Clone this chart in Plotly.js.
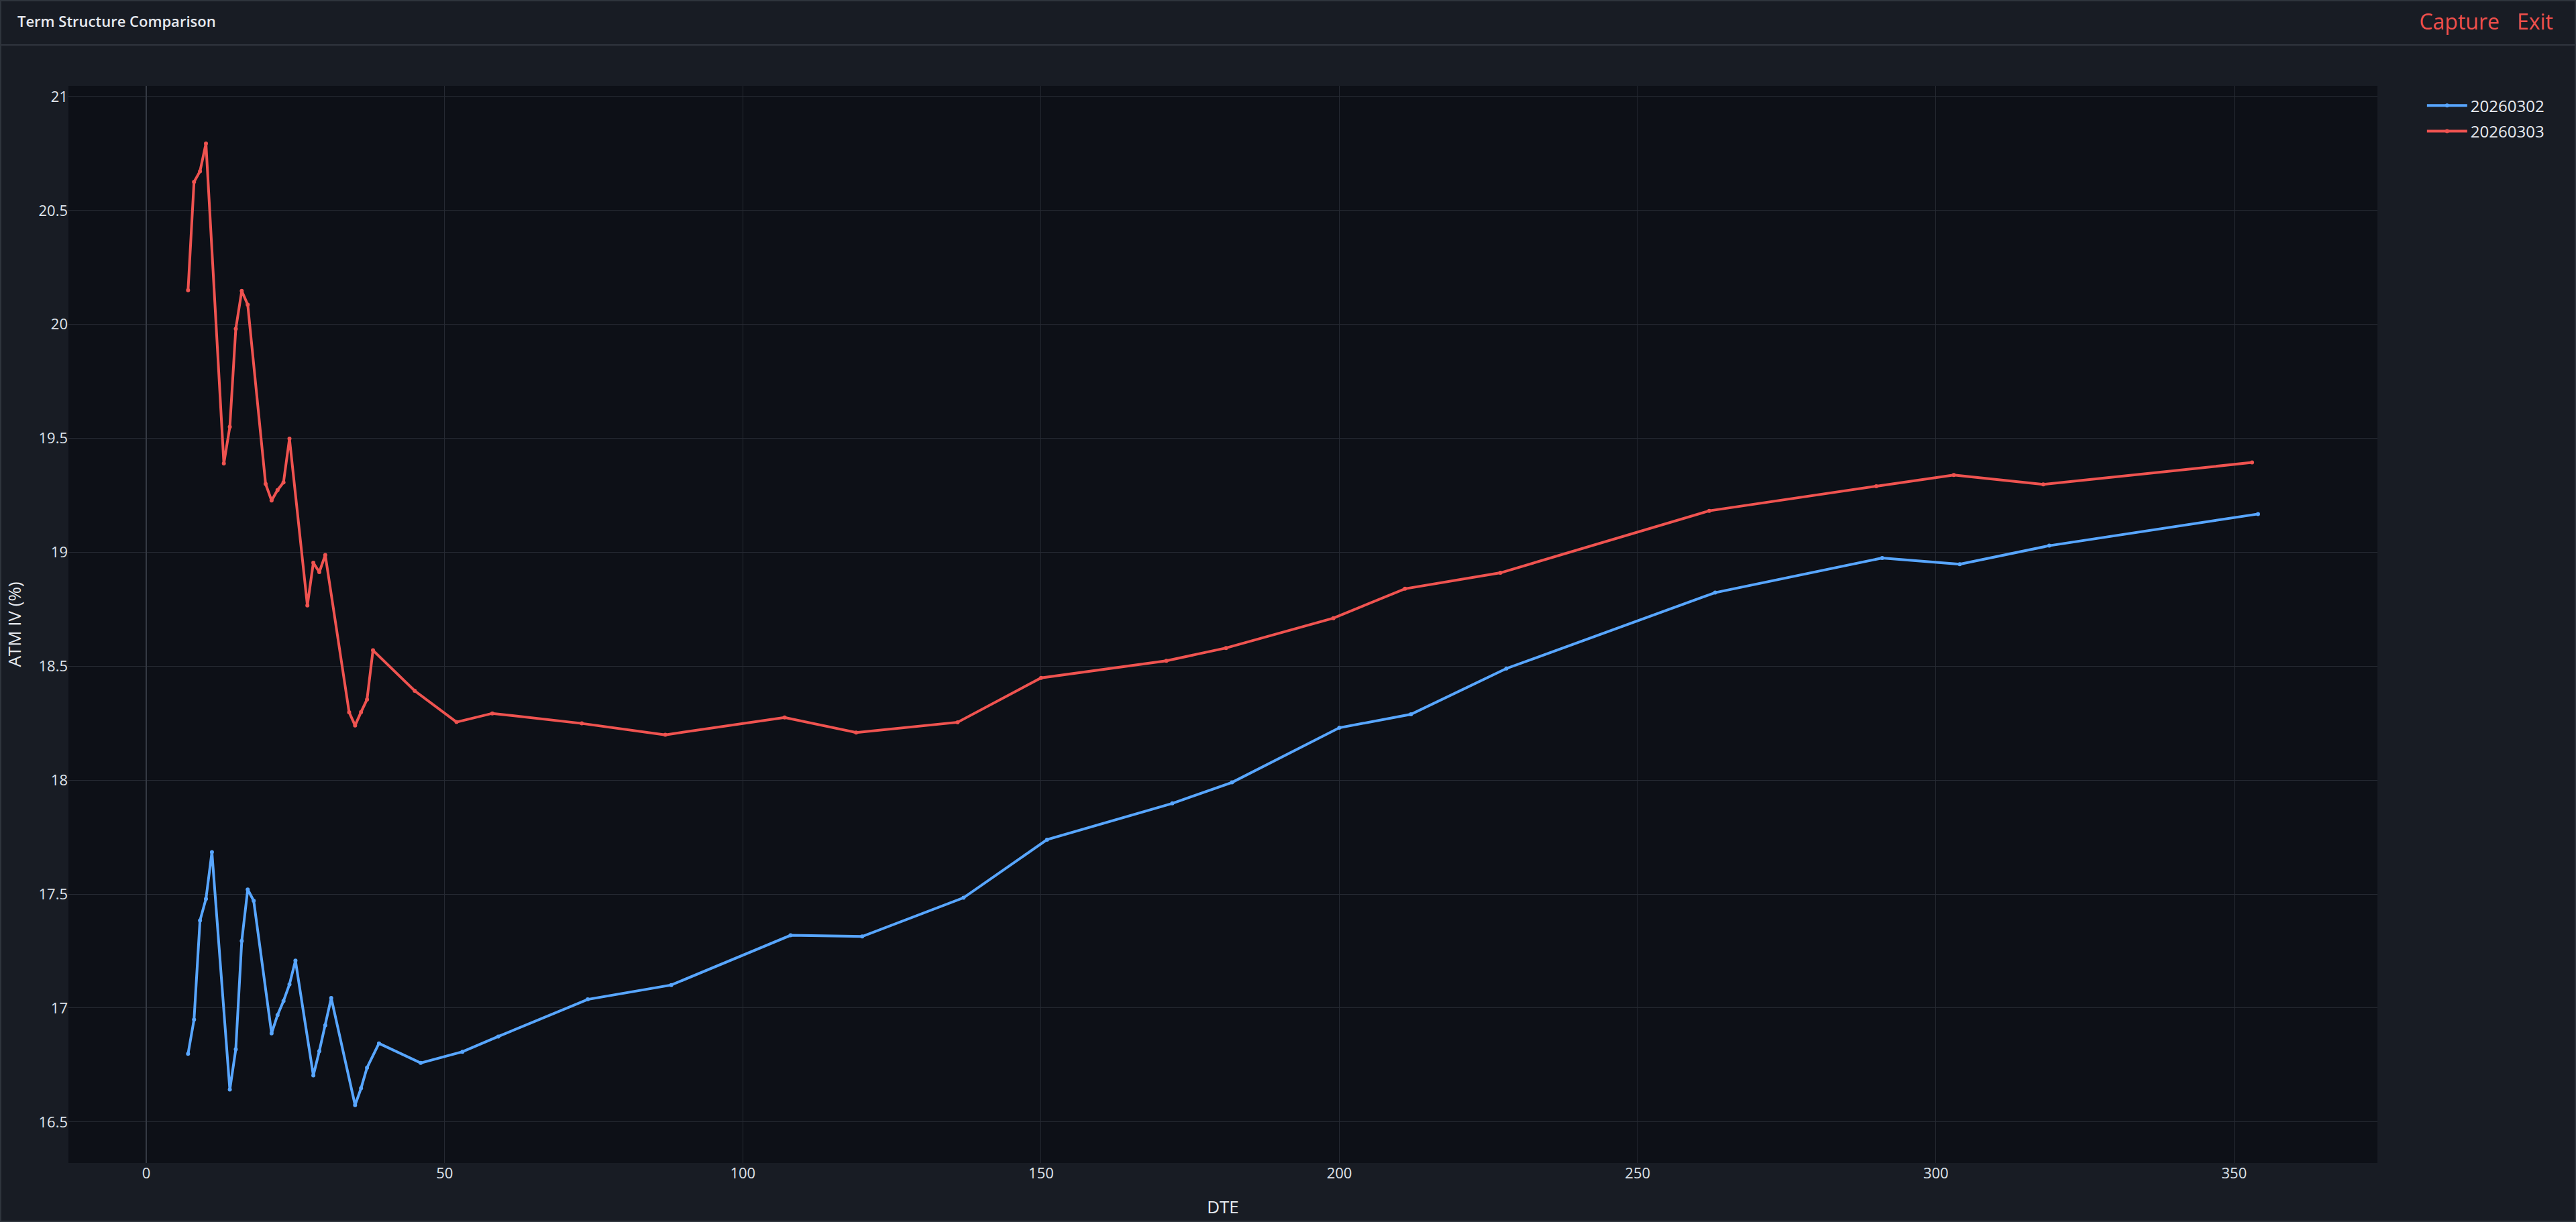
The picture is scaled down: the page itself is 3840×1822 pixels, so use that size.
<!DOCTYPE html>
<html>
<head>
<meta charset="utf-8">
<script src="https://cdn.plot.ly/plotly-3.0.1.min.js"></script>
<style>
  html, body { margin: 0; padding: 0; width: 3840px; height: 1822px; background: #181c24; overflow: hidden; }
  #chart { position: absolute; left: 0; top: 0; width: 3840px; height: 1822px; }
  #header { position: absolute; left: 0; top: 0; width: 3840px; height: 66px; border-bottom: 2px solid #30353e; box-sizing: content-box; pointer-events: none; }
  #title { position: absolute; left: 26px; top: 16px; font-family: "Open Sans", sans-serif; font-weight: 600; font-size: 22px; color: #e6e9ef; }
  #actions { position: absolute; right: 34px; top: 10px; font-family: "Open Sans", sans-serif; font-size: 32px; color: #ef4f4c; }
  #actions span { margin-left: 26px; }
  #frame { position: absolute; left: 0; top: 0; width: 3840px; height: 1822px; border: 2px solid #2f343c; box-sizing: border-box; pointer-events: none; }
</style>
</head>
<body>
<div id="chart"></div>
<div id="header">
  <div id="title">Term Structure Comparison</div>
  <div id="actions"><span>Capture</span><span>Exit</span></div>
</div>
<div id="frame"></div>
<script>
// Series 20260302
const dte_20260302 = [7, 8, 9, 10, 11, 14, 15, 16, 17, 18, 21, 22, 23, 24, 25, 28, 29, 30, 31, 35, 36, 37, 39, 46, 53, 59, 74, 88, 108, 120, 137, 151, 172, 182, 200, 212, 228, 263, 291, 304, 319, 354];
const iv_20260302 = [16.799, 16.949, 17.384, 17.479, 17.684, 16.642, 16.819, 17.294, 17.520, 17.471, 16.889, 16.969, 17.031, 17.104, 17.208, 16.704, 16.811, 16.924, 17.044, 16.574, 16.648, 16.738, 16.845, 16.759, 16.808, 16.875, 17.038, 17.101, 17.319, 17.314, 17.484, 17.739, 17.898, 17.990, 18.230, 18.289, 18.490, 18.823, 18.975, 18.948, 19.029, 19.168];

// Series 20260303
const dte_20260303 = [7, 8, 9, 10, 13, 14, 15, 16, 17, 20, 21, 22, 23, 24, 27, 28, 29, 30, 34, 35, 36, 37, 38, 45, 52, 58, 73, 87, 107, 119, 136, 150, 171, 181, 199, 211, 227, 262, 290, 303, 318, 353];
const iv_20260303 = [20.150, 20.625, 20.672, 20.794, 19.390, 19.550, 19.981, 20.147, 20.087, 19.300, 19.227, 19.273, 19.307, 19.499, 18.767, 18.954, 18.913, 18.988, 18.298, 18.240, 18.299, 18.354, 18.570, 18.392, 18.255, 18.293, 18.249, 18.199, 18.275, 18.209, 18.254, 18.449, 18.524, 18.580, 18.711, 18.840, 18.910, 19.182, 19.290, 19.339, 19.298, 19.394];

const seriesNames = ["20260302", "20260303"];
const xTickVals = [0, 50, 100, 150, 200, 250, 300, 350];
const yTickVals = [16.5, 17, 17.5, 18, 18.5, 19, 19.5, 20, 20.5, 21];

const traces = [
  {
    x: dte_20260302, y: iv_20260302, name: seriesNames[0], legendgroup: "g1",
    type: "scatter", mode: "lines+markers",
    line: { color: "#58a6ff", width: 4 },
    marker: { color: "#58a6ff", size: 6 }
  },
  {
    x: dte_20260303, y: iv_20260303, name: seriesNames[1], legendgroup: "g2",
    type: "scatter", mode: "lines+markers",
    line: { color: "#ef5350", width: 4 },
    marker: { color: "#ef5350", size: 6 }
  }
];

const layout = {
  width: 3840, height: 1822,
  paper_bgcolor: "#181c24",
  plot_bgcolor: "#0d1017",
  margin: { l: 102, r: 296, t: 128, b: 88, pad: 0 },
  font: { family: "'Open Sans', verdana, arial, sans-serif", color: "#dfe3ea", size: 22 },
  showlegend: true,
  legend: {
    x: 1.02, y: 0.9955, xanchor: "left", yanchor: "top",
    font: { size: 24, color: "#e6e9ef" },
    itemwidth: 60,
    traceorder: "grouped",
    tracegroupgap: 4,
    bgcolor: "rgba(0,0,0,0)"
  },
  xaxis: {
    title: { text: "DTE", font: { size: 26, color: "#e6e9ef" }, standoff: 28 },
    range: [-13.056, 374.02],
    tickmode: "array", tickvals: xTickVals,
    gridcolor: "#262a33", gridwidth: 1,
    zeroline: true, zerolinecolor: "#353a44", zerolinewidth: 2,
    showline: false, ticks: "",
    tickfont: { size: 22, color: "#dfe3ea" },
    automargin: false
  },
  yaxis: {
    title: { text: "ATM IV (%)", font: { size: 26, color: "#e6e9ef" }, standoff: 18 },
    range: [16.320, 21.047],
    tickmode: "array", tickvals: yTickVals,
    gridcolor: "#262a33", gridwidth: 1,
    zeroline: false, showline: false, ticks: "",
    tickfont: { size: 22, color: "#dfe3ea" },
    automargin: false
  }
};

Plotly.newPlot("chart", traces, layout, { displayModeBar: false, staticPlot: true });
</script>
</body>
</html>
